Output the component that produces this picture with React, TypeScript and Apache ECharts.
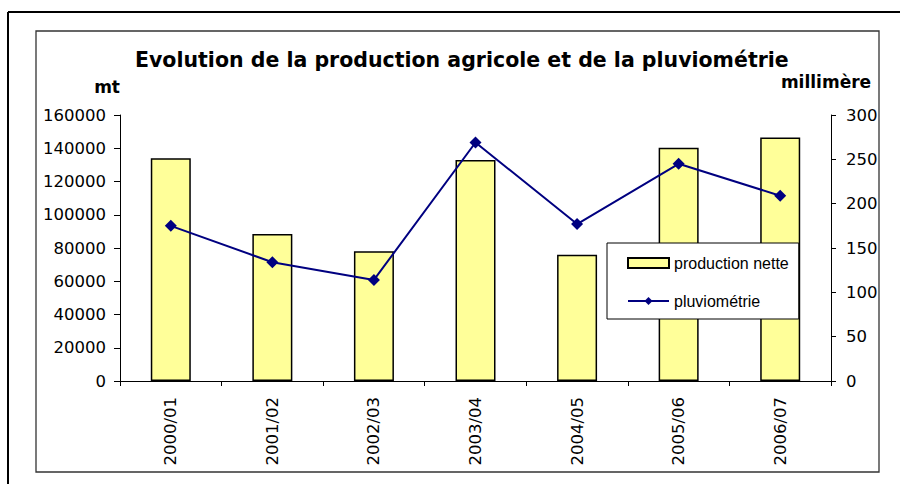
import React, { useEffect, useRef } from "react";
import * as echarts from "echarts";

const categories = ["2000/01", "2001/02", "2002/03", "2003/04", "2004/05", "2005/06", "2006/07"];
const production = [134000, 88400, 78000, 133000, 76000, 140300, 146400];
const pluvio = [175, 134, 114, 269, 177, 245, 209];
const leftTicks = { min: 0, max: 160000, interval: 20000 };
const rightTicks = { min: 0, max: 300, interval: 50 };

const FONT = "DejaVu Sans";

export default function App() {
  const ref = useRef<HTMLDivElement>(null);
  useEffect(() => {
    if (!ref.current) return;
    const chart = echarts.init(ref.current, null, { renderer: "svg" });
    chart.setOption({
      animation: false,
      backgroundColor: "#ffffff",
      title: {
        text: "Evolution de la production agricole et de la pluviométrie",
        left: 130,
        top: 44,
        padding: 5,
        textStyle: { fontFamily: FONT, fontSize: 20.5, fontWeight: "bold", color: "#000" },
      },
      legend: {
        orient: "vertical",
        left: 607,
        top: 243,
        padding: [12, 10, 10, 20],
        itemGap: 22,
        itemWidth: 41,
        itemHeight: 10,
        backgroundColor: "#fff",
        borderColor: "#000",
        borderWidth: 1,
        textStyle: { fontFamily: "Liberation Sans", fontSize: 16, color: "#000" },
        data: [
          { name: "production nette", icon: "rect" },
          { name: "pluviométrie" },
        ],
      },
      grid: { left: 120, right: 69, top: 115, bottom: 103, containLabel: false },
      xAxis: {
        type: "category",
        data: categories,
        boundaryGap: true,
        axisLine: { show: true, lineStyle: { color: "#000", width: 1 } },
        axisTick: { show: true, alignWithLabel: false, length: 5, lineStyle: { color: "#000" } },
        axisLabel: {
          rotate: 90,
          margin: 16,
          fontFamily: FONT,
          fontSize: 16.5,
          color: "#000",
          interval: 0,
        },
        splitLine: { show: false },
      },
      yAxis: [
        {
          type: "value",
          min: leftTicks.min,
          max: leftTicks.max,
          interval: leftTicks.interval,
          name: "mt",
          nameLocation: "end",
          nameGap: 20,
          nameTextStyle: { fontFamily: FONT, fontSize: 17, fontWeight: "bold", color: "#000", align: "right" },
          axisLine: { show: true, lineStyle: { color: "#000", width: 1 } },
          axisTick: { show: true, length: 6, lineStyle: { color: "#000" } },
          axisLabel: {
            margin: 14,
            fontFamily: FONT,
            fontSize: 16.5,
            color: "#000",
            formatter: (v: number) => String(v),
          },
          splitLine: { show: false },
        },
        {
          type: "value",
          position: "right",
          min: rightTicks.min,
          max: rightTicks.max,
          interval: rightTicks.interval,
          name: "millimère",
          nameLocation: "end",
          nameGap: 25,
          nameTextStyle: { fontFamily: FONT, fontSize: 17, fontWeight: "bold", color: "#000", padding: [0, 10, 0, 0] },
          axisLine: { show: true, lineStyle: { color: "#000", width: 1 } },
          axisTick: { show: true, length: 5, lineStyle: { color: "#000" } },
          axisLabel: {
            margin: 15,
            fontFamily: FONT,
            fontSize: 16.5,
            color: "#000",
            formatter: (v: number) => String(v),
          },
          splitLine: { show: false },
        },
      ],
      series: [
        {
          name: "production nette",
          type: "bar",
          yAxisIndex: 0,
          data: production,
          barWidth: 40,
          itemStyle: { color: "#FFFF99", borderColor: "#000000", borderWidth: 1.5, borderType: "solid" },
        },
        {
          name: "pluviométrie",
          type: "line",
          yAxisIndex: 1,
          data: pluvio,
          symbol: "diamond",
          symbolSize: 12,
          lineStyle: { color: "#000080", width: 2 },
          itemStyle: { color: "#000080" },
        },
      ],
      graphic: [
        {
          type: "rect",
          shape: { x: 36, y: 31, width: 843, height: 441 },
          style: { fill: "none", stroke: "#333", lineWidth: 1.3 },
          silent: true,
          z: -1,
        },
        {
          type: "line",
          shape: { x1: 8, y1: 12, x2: 900, y2: 12 },
          style: { stroke: "#000", lineWidth: 2 },
          silent: true,
        },
        {
          type: "line",
          shape: { x1: 8, y1: 12, x2: 8, y2: 484 },
          style: { stroke: "#000", lineWidth: 2 },
          silent: true,
        },
      ],
    });
    return () => chart.dispose();
  }, []);
  return (
    <div
      ref={ref}
      style={{ position: "fixed", left: 0, top: 0, width: 900, height: 484 }}
    />
  );
}
